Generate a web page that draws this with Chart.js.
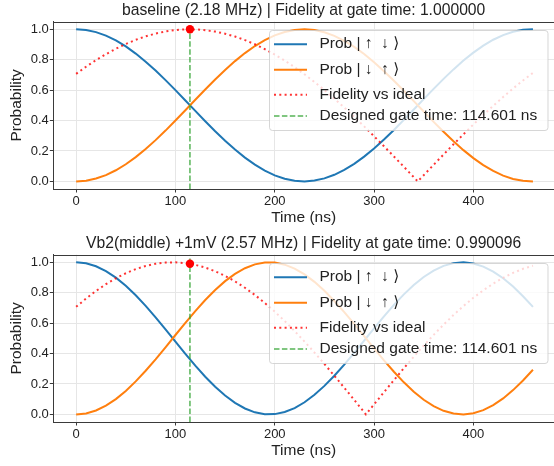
<!DOCTYPE html>
<html><head><meta charset="utf-8">
<script src="https://cdn.jsdelivr.net/npm/chart.js@4.4.1/dist/chart.umd.min.js"></script>
<style>
html,body{margin:0;padding:0;background:#fff;width:554px;height:466px;overflow:hidden}
.wrap{position:absolute;left:0;width:554px;height:233px}
canvas{display:block}
</style></head><body>
<div class="wrap" style="top:0"><canvas id="c1" width="554" height="233"></canvas></div>
<div class="wrap" style="top:233px"><canvas id="c2" width="554" height="233"></canvas></div>
<script>
// ---------------- data ----------------
const timeNs = [0,10,20,30,40,50,60,70,80,90,100,110,120,130,140,150,160,170,180,190,200,210,220,230,240,250,260,270,280,290,300,310,320,330,340,350,360,370,380,390,400,410,420,430,440,450,460];

// baseline (2.18 MHz)
const probUpDownTop = [1.0000,0.9953,0.9814,0.9584,0.9268,0.8873,0.8405,0.7873,0.7287,0.6659,0.5999,0.5320,0.4636,0.3958,0.3301,0.2674,0.2092,0.1564,0.1100,0.0709,0.0399,0.0175,0.0041,0.0000,0.0053,0.0199,0.0434,0.0755,0.1155,0.1628,0.2164,0.2753,0.3383,0.4045,0.4724,0.5408,0.6085,0.6741,0.7365,0.7944,0.8468,0.8928,0.9313,0.9618,0.9837,0.9964,0.9999];
const probDownUpTop = [0.0000,0.0047,0.0186,0.0416,0.0732,0.1127,0.1595,0.2127,0.2713,0.3341,0.4001,0.4680,0.5364,0.6042,0.6699,0.7326,0.7908,0.8436,0.8900,0.9291,0.9601,0.9825,0.9959,1.0000,0.9947,0.9801,0.9566,0.9245,0.8845,0.8372,0.7836,0.7247,0.6617,0.5955,0.5276,0.4592,0.3915,0.3259,0.2635,0.2056,0.1532,0.1072,0.0687,0.0382,0.0163,0.0036,0.0001];
const fidTimeTop = [0,10,20,30,40,50,60,70,80,90,100,110,120,130,140,150,160,170,180,190,200,210,220,230,240,250,260,270,280,290,300,310,320,330,340,344,350,360,370,380,390,400,410,420,430,440,450,460];
const fidelityTop = [0.7071,0.7539,0.7970,0.8365,0.8721,0.9035,0.9307,0.9535,0.9719,0.9858,0.9950,0.9995,0.9994,0.9945,0.9850,0.9709,0.9522,0.9291,0.9016,0.8699,0.8341,0.7944,0.7510,0.7040,0.6537,0.6004,0.5443,0.4856,0.4246,0.3617,0.2970,0.2310,0.1639,0.0960,0.0276,0.0000,0.0408,0.1091,0.1769,0.2438,0.3096,0.3740,0.4366,0.4971,0.5553,0.6109,0.6637,0.7133];

// Vb2(middle) +1mV (2.57 MHz)
const probUpDownBottom = [1.0000,0.9935,0.9742,0.9425,0.8993,0.8457,0.7831,0.7132,0.6377,0.5586,0.4780,0.3980,0.3206,0.2479,0.1818,0.1239,0.0758,0.0388,0.0137,0.0014,0.0019,0.0155,0.0416,0.0797,0.1287,0.1874,0.2542,0.3274,0.4051,0.4852,0.5658,0.6446,0.7197,0.7891,0.8509,0.9036,0.9458,0.9764,0.9946,1.0000,0.9923,0.9718,0.9391,0.8949,0.8404,0.7771,0.7066];
const probDownUpBottom = [0.0000,0.0065,0.0258,0.0575,0.1007,0.1543,0.2169,0.2868,0.3623,0.4414,0.5220,0.6020,0.6794,0.7521,0.8182,0.8761,0.9242,0.9612,0.9863,0.9986,0.9981,0.9845,0.9584,0.9203,0.8713,0.8126,0.7458,0.6726,0.5949,0.5148,0.4342,0.3554,0.2803,0.2109,0.1491,0.0964,0.0542,0.0236,0.0054,0.0000,0.0077,0.0282,0.0609,0.1051,0.1596,0.2229,0.2934];
const fidTimeBottom = [0,10,20,30,40,50,60,70,80,90,100,110,120,130,140,150,160,170,180,190,200,210,220,230,240,250,260,270,280,290,291.8,300,310,320,330,340,350,360,370,380,390,400,410,420,430,440,450,460];
const fidelityBottom = [0.7071,0.7618,0.8116,0.8561,0.8950,0.9280,0.9551,0.9759,0.9903,0.9983,0.9998,0.9947,0.9832,0.9653,0.9411,0.9108,0.8745,0.8325,0.7851,0.7326,0.6753,0.6137,0.5480,0.4787,0.4064,0.3313,0.2542,0.1753,0.0954,0.0148,0.0000,0.0659,0.1462,0.2255,0.3033,0.3792,0.4526,0.5230,0.5901,0.6533,0.7122,0.7665,0.8158,0.8598,0.8982,0.9307,0.9572,0.9774];

const gateTimeNs = 114.601;
const fidelityAtGateTop = 1.000000;
const fidelityAtGateBottom = 0.990096;

const xTickValues = [0,100,200,300,400];
const yTickValues = [0,0.2,0.4,0.6,0.8,1.0];
const xLimits = [-23, 481.2];
const yLimits = [-0.05, 1.05];

const titleTop = 'baseline (2.18 MHz) | Fidelity at gate time: 1.000000';
const titleBottom = 'Vb2(middle) +1mV (2.57 MHz) | Fidelity at gate time: 0.990096';
const seriesLabels = ['Prob | \u2191  \u2193 \u27e9', 'Prob | \u2193  \u2191 \u27e9', 'Fidelity vs ideal', 'Designed gate time: 114.601 ns'];
const xLabel = 'Time (ns)';
const yLabel = 'Probability';

// ---------------- styling ----------------
const FONT = "'Liberation Sans', Arial, 'DejaVu Sans', sans-serif";
const TXT = '#222';
const SPINE = '#3a3a3a';
const GRID = '#e6e6e6';
const C_BLUE = '#1f77b4', C_ORANGE = '#ff7f0e', C_RED = 'rgba(255,0,0,0.8)', C_GREEN = 'rgba(44,160,44,0.8)';
const DOT = [2, 3.3], DASH = [5.5, 2.4];

const pts = (xs, ys) => xs.map((x, i) => ({x, y: ys[i]}));

const legendPlugin = {
  id: 'mplLegend',
  afterDatasetsDraw(chart) {
    const {ctx, chartArea: a} = chart;
    ctx.save();
    // top spine
    ctx.strokeStyle = SPINE; ctx.lineWidth = 1;
    ctx.beginPath();
    ctx.moveTo(a.left, Math.round(a.top) + 0.5);
    ctx.lineTo(a.right, Math.round(a.top) + 0.5);
    ctx.stroke();
    // legend box
    const bx = 269.5, by = Math.round(a.top + 8.3) + 0.5, bw = 278.5, bh = 100, r = 3;
    ctx.beginPath();
    ctx.moveTo(bx + r, by); ctx.lineTo(bx + bw - r, by); ctx.arcTo(bx + bw, by, bx + bw, by + r, r);
    ctx.lineTo(bx + bw, by + bh - r); ctx.arcTo(bx + bw, by + bh, bx + bw - r, by + bh, r);
    ctx.lineTo(bx + r, by + bh); ctx.arcTo(bx, by + bh, bx, by + bh - r, r);
    ctx.lineTo(bx, by + r); ctx.arcTo(bx, by, bx + r, by, r); ctx.closePath();
    ctx.fillStyle = 'rgba(255,255,255,0.8)'; ctx.fill();
    ctx.strokeStyle = 'rgba(204,204,204,0.8)'; ctx.lineWidth = 1; ctx.stroke();
    const rows = [13.7, 39.2, 64.3, 85.5];
    const styles = [
      {c: C_BLUE, w: 2, d: []},
      {c: C_ORANGE, w: 2, d: []},
      {c: C_RED, w: 2, d: DOT},
      {c: C_GREEN, w: 1.5, d: DASH}
    ];
    ctx.font = '15.5px ' + FONT;
    ctx.textBaseline = 'middle';
    ctx.textAlign = 'left';
    seriesLabels.forEach((lab, i) => {
      const y = by + rows[i];
      const s = styles[i];
      ctx.beginPath();
      ctx.strokeStyle = s.c; ctx.lineWidth = s.w; ctx.setLineDash(s.d); ctx.lineCap = 'butt';
      ctx.moveTo(bx + 4.5, y); ctx.lineTo(bx + 37.5, y); ctx.stroke();
      ctx.setLineDash([]);
      ctx.fillStyle = TXT;
      ctx.fillText(lab, bx + 50, y);
    });
    ctx.restore();
  }
};

function makeChart(id, title, blue, orange, fidT, fid, fidGate) {
  return new Chart(document.getElementById(id), {
    type: 'line',
    data: {
      datasets: [
        {type: 'scatter', data: [{x: gateTimeNs, y: fidGate}], pointRadius: 4.2, pointBackgroundColor: '#ff0000', pointBorderWidth: 0, order: 0},
        {data: [{x: gateTimeNs, y: yLimits[0]}, {x: gateTimeNs, y: yLimits[1]}], borderColor: C_GREEN, borderWidth: 1.5, borderDash: DASH, pointRadius: 0, order: 1},
        {data: pts(fidT, fid), borderColor: C_RED, borderWidth: 2, borderDash: DOT, borderCapStyle: 'butt', pointRadius: 0, tension: 0, order: 2},
        {data: pts(timeNs, orange), borderColor: C_ORANGE, borderWidth: 2, pointRadius: 0, tension: 0, order: 3},
        {data: pts(timeNs, blue), borderColor: C_BLUE, borderWidth: 2, pointRadius: 0, tension: 0, order: 4}
      ]
    },
    options: {
      responsive: false, animation: false, devicePixelRatio: 1,
      layout: {padding: 0, autoPadding: false},
      plugins: {
        legend: {display: false}, tooltip: {enabled: false},
        title: {display: true, text: title, fullSize: false, color: TXT,
                font: {family: FONT, size: 15.7, weight: 'normal', lineHeight: 1.2},
                padding: {top: 0.8, bottom: 2.06}}
      },
      scales: {
        x: {
          type: 'linear', min: xLimits[0], max: xLimits[1],
          afterBuildTicks: s => { s.ticks = xTickValues.map(v => ({value: v})); },
          afterFit: s => { s.height = 44; },
          grid: {color: GRID, lineWidth: 1, drawTicks: true, tickLength: 3.5, tickColor: SPINE, tickWidth: 1},
          border: {display: true, color: SPINE, width: 1},
          ticks: {color: TXT, font: {family: FONT, size: 13}, padding: 1.5, maxRotation: 0, callback: v => String(v)},
          title: {display: true, text: xLabel, color: TXT, font: {family: FONT, size: 15.5, lineHeight: 1.2}, padding: {top: 0, bottom: 5.7}}
        },
        y: {
          type: 'linear', min: yLimits[0], max: yLimits[1],
          afterBuildTicks: s => { s.ticks = yTickValues.map(v => ({value: v})); },
          afterFit: s => { s.width = 53.3; },
          grid: {color: GRID, lineWidth: 1, drawTicks: true, tickLength: 3.5, tickColor: SPINE, tickWidth: 1},
          border: {display: true, color: SPINE, width: 1},
          ticks: {color: TXT, font: {family: FONT, size: 13}, padding: 1, callback: v => v.toFixed(1)},
          title: {display: true, text: yLabel, color: TXT, font: {family: FONT, size: 15.5, lineHeight: 1.2}, padding: {top: 7.4, bottom: 0}}
        }
      }
    },
    plugins: [legendPlugin]
  });
}

makeChart('c1', titleTop, probUpDownTop, probDownUpTop, fidTimeTop, fidelityTop, fidelityAtGateTop);
makeChart('c2', titleBottom, probUpDownBottom, probDownUpBottom, fidTimeBottom, fidelityBottom, fidelityAtGateBottom);
</script>
</body></html>
